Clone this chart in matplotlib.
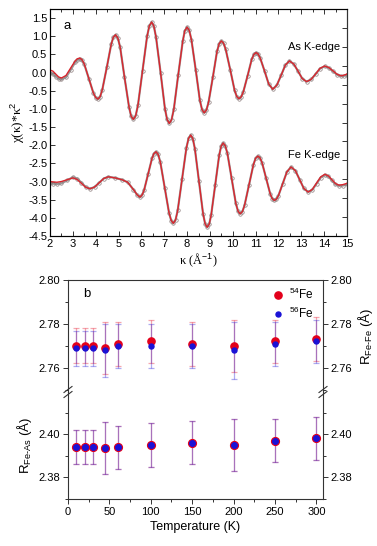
import numpy as np
import matplotlib.pyplot as plt
from matplotlib.lines import Line2D
from matplotlib.ticker import MultipleLocator, FixedLocator

plt.rcParams['font.family'] = ['Liberation Sans', 'DejaVu Sans']
plt.rcParams['mathtext.fontset'] = 'custom'
plt.rcParams['mathtext.rm'] = 'Liberation Sans'

#-----------------------------------------------------------------------------------------------------------------------
# panel a : k^2 weighted EXAFS (data + fit)
as_k = [2.0, 2.125, 2.25, 2.375, 2.5, 2.7, 2.9, 3.1, 3.2, 3.3,
        3.4, 3.5, 3.7, 3.9, 4.0, 4.1, 4.195, 4.29, 4.49, 4.68,
        4.77, 4.87, 4.97, 5.07, 5.26, 5.46, 5.55, 5.65, 5.75, 5.85,
        6.05, 6.25, 6.35, 6.45, 6.545, 6.64, 6.84, 7.03, 7.125, 7.22,
        7.32, 7.42, 7.61, 7.81, 7.9, 8.0, 8.095, 8.19, 8.38, 8.56,
        8.655, 8.75, 8.845, 8.94, 9.13, 9.31, 9.405, 9.5, 9.595, 9.69,
        9.89, 10.08, 10.175, 10.27, 10.365, 10.46, 10.65, 10.83, 10.925, 11.02,
        11.11, 11.2, 11.39, 11.57, 11.75, 11.93, 12.12, 12.3, 12.48, 12.67,
        12.86, 13.04, 13.23, 13.43, 13.63, 13.82, 14.02, 14.2, 14.39, 14.57,
        14.75, 14.88, 15.0]
as_fit = [0.07, 0.04, -0.04, -0.12, -0.15, -0.08, 0.12, 0.32, 0.38, 0.40,
          0.357, 0.235, -0.165, -0.565, -0.687, -0.73, -0.663, -0.47, 0.155, 0.78,
          0.97, 1.04, 0.95, 0.70, -0.125, -0.95, -1.20, -1.29, -1.19, -0.90,
          0.05, 1.00, 1.29, 1.39, 1.28, 0.98, 0.0, -0.99, -1.29, -1.40,
          -1.30, -1.01, -0.075, 0.86, 1.15, 1.25, 1.16, 0.905, 0.07, -0.765,
          -1.02, -1.11, -1.035, -0.82, -0.12, 0.58, 0.795, 0.87, 0.81, 0.64,
          0.075, -0.49, -0.66, -0.72, -0.672, -0.535, -0.085, 0.365, 0.50, 0.55,
          0.51, 0.40, 0.045, -0.31, -0.46, -0.345, -0.07, 0.205, 0.32, 0.235,
          0.035, -0.165, -0.25, -0.187, -0.035, 0.117, 0.18, 0.14, 0.045, -0.05,
          -0.09, -0.07, -0.04]
as_data = [0.0, -0.04, -0.11, -0.17, -0.19, -0.13, 0.07, 0.28, 0.35, 0.38,
           0.34, 0.23, -0.165, -0.565, -0.687, -0.73, -0.663, -0.47, 0.155, 0.78,
           0.97, 1.04, 0.95, 0.70, -0.125, -0.95, -1.20, -1.29, -1.19, -0.90,
           0.05, 1.00, 1.29, 1.39, 1.28, 0.98, 0.0, -0.99, -1.29, -1.40,
           -1.30, -1.01, -0.075, 0.86, 1.15, 1.25, 1.16, 0.905, 0.07, -0.765,
           -1.02, -1.11, -1.035, -0.82, -0.12, 0.58, 0.795, 0.87, 0.81, 0.64,
           0.075, -0.49, -0.66, -0.72, -0.672, -0.535, -0.085, 0.365, 0.50, 0.55,
           0.51, 0.40, 0.045, -0.31, -0.46, -0.345, -0.07, 0.205, 0.32, 0.235,
           0.035, -0.165, -0.25, -0.19, -0.04, 0.11, 0.17, 0.13, 0.035, -0.06,
           -0.10, -0.09, -0.06]

fe_k = [2.0, 2.15, 2.3, 2.5, 2.75, 3.0, 3.19, 3.375, 3.56, 3.75,
        3.95, 4.15, 4.35, 4.55, 4.85, 5.15, 5.4, 5.65, 5.82, 5.94,
        6.03, 6.115, 6.29, 6.465, 6.55, 6.64, 6.735, 6.83, 7.02, 7.21,
        7.305, 7.40, 7.495, 7.59, 7.78, 7.97, 8.065, 8.16, 8.25, 8.34,
        8.52, 8.70, 8.79, 8.88, 8.97, 9.055, 9.23, 9.405, 9.49, 9.58,
        9.67, 9.765, 9.95, 10.135, 10.23, 10.32, 10.42, 10.515, 10.71, 10.905,
        11.0, 11.1, 11.19, 11.28, 11.46, 11.64, 11.73, 11.82, 11.91, 12.0,
        12.185, 12.37, 12.55, 12.74, 12.925, 13.11, 13.3, 13.48, 13.665, 13.85,
        14.03, 14.185, 14.34, 14.495, 14.65, 14.82, 15.0]
fe_fit = [-3.00, -3.01, -3.02, -3.00, -2.95, -2.90, -2.944, -3.05, -3.156, -3.20,
          -3.152, -3.035, -2.918, -2.87, -2.90, -2.95, -3.02, -3.22, -3.37, -3.43,
          -3.37, -3.247, -2.805, -2.363, -2.23, -2.18, -2.255, -2.468, -3.165, -3.862,
          -4.075, -4.15, -4.058, -3.795, -2.935, -2.075, -1.812, -1.72, -1.817, -2.091,
          -2.99, -3.889, -4.163, -4.26, -4.172, -3.921, -3.10, -2.279, -2.028, -1.94,
          -2.014, -2.225, -2.915, -3.605, -3.816, -3.89, -3.83, -3.658, -3.095, -2.532,
          -2.36, -2.30, -2.346, -2.478, -2.91, -3.342, -3.474, -3.52, -3.485, -3.386,
          -3.06, -2.734, -2.60, -2.70, -2.945, -3.19, -3.29, -3.218, -3.045, -2.872,
          -2.80, -2.844, -2.95, -3.056, -3.10, -3.085, -3.05]
fe_data = [-3.05, -3.06, -3.07, -3.05, -2.97, -2.88, -2.92, -3.03, -3.15, -3.20,
           -3.152, -3.035, -2.918, -2.87, -2.90, -2.95, -3.02, -3.22, -3.37, -3.43,
           -3.37, -3.247, -2.805, -2.363, -2.23, -2.18, -2.255, -2.468, -3.165, -3.862,
           -4.075, -4.15, -4.058, -3.795, -2.935, -2.075, -1.812, -1.72, -1.817, -2.091,
           -2.99, -3.889, -4.163, -4.26, -4.172, -3.921, -3.10, -2.279, -2.028, -1.94,
           -2.014, -2.225, -2.915, -3.605, -3.816, -3.89, -3.83, -3.658, -3.095, -2.532,
           -2.36, -2.30, -2.346, -2.478, -2.91, -3.342, -3.474, -3.52, -3.485, -3.386,
           -3.06, -2.734, -2.60, -2.70, -2.945, -3.19, -3.29, -3.23, -3.06, -2.89,
           -2.82, -2.86, -2.97, -3.08, -3.12, -3.11, -3.08]

#-----------------------------------------------------------------------------------------------------------------------
# panel b : bond lengths vs temperature
temps = [10, 20, 30, 45, 60, 100, 150, 200, 250, 300]
fefe_54 = [2.770, 2.770, 2.770, 2.769, 2.771, 2.772, 2.771, 2.770, 2.772, 2.773]
fefe_56 = [2.769, 2.769, 2.769, 2.768, 2.770, 2.770, 2.770, 2.768, 2.771, 2.772]
fefe_54_err = [0.008, 0.008, 0.008, 0.012, 0.010, 0.010, 0.010, 0.012, 0.010, 0.010]
fefe_56_err = [0.008, 0.008, 0.008, 0.012, 0.010, 0.010, 0.010, 0.013, 0.010, 0.010]
feas_54 = [2.394, 2.394, 2.394, 2.3935, 2.394, 2.395, 2.396, 2.395, 2.397, 2.398]
feas_56 = [2.394, 2.394, 2.394, 2.3935, 2.394, 2.395, 2.396, 2.395, 2.397, 2.398]
feas_54_err = [0.008, 0.008, 0.008, 0.012, 0.010, 0.010, 0.010, 0.012, 0.010, 0.010]
feas_56_err = [0.008, 0.008, 0.008, 0.012, 0.010, 0.010, 0.010, 0.012, 0.010, 0.010]

RED = '#e3001b'
BLUE = '#1a12d6'
SPINE = '#333333'
#-----------------------------------------------------------------------------------------------------------------------

fig = plt.figure(figsize=(3.77, 5.46), dpi=100)
W, H = 377.0, 546.0

def px_axes(x0, y0, x1, y1):
    # pixel box (top-left origin) -> figure fraction axes
    return fig.add_axes([x0 / W, 1 - y1 / H, (x1 - x0) / W, (y1 - y0) / H])

# ---------------- panel a
ax = px_axes(50, 9, 347, 236)
for xs, ys in ((as_k, as_data), (fe_k, fe_data)):
    ax.plot(xs, ys, color='#9a9a9a', lw=1.6, zorder=2)
    ax.plot(xs, ys, ls='none', marker='o', ms=2.5, mfc='none', mec='#8c7c7c', mew=0.5, zorder=3)
for xs, ys in ((as_k, as_fit), (fe_k, fe_fit)):
    ax.plot(xs, ys, color='#d9262e', lw=1.0, zorder=4)

ax.set_xlim(2, 15)
ax.set_ylim(-4.5, 1.75)
ax.xaxis.set_major_locator(MultipleLocator(1))
ax.xaxis.set_minor_locator(MultipleLocator(0.5))
ax.tick_params(which='both', direction='in', top=True, right=False, labelsize=8, colors='black', pad=2)
ax.tick_params(which='major', length=3.5, width=0.7, color=SPINE)
ax.tick_params(which='minor', length=2, width=0.7, color=SPINE)
yt = np.arange(-4.5, 1.51, 0.5)
ax.set_yticks(yt)
ax.set_yticklabels(['%.1f' % v for v in yt])
for s in ax.spines.values():
    s.set_color(SPINE)
    s.set_linewidth(0.8)

axr = ax.twinx()
axr.set_ylim(0, 12)
axr.yaxis.set_major_locator(FixedLocator(range(1, 12)))
axr.tick_params(direction='in', length=3.5, width=0.7, color=SPINE, labelright=False)
axr.spines['right'].set_color(SPINE)

ax.set_xlabel('κ (Å$^{-1}$)', family='Liberation Serif', fontsize=9, labelpad=2)
ax.set_ylabel('χ(κ)*κ$^2$', family='Liberation Serif', fontsize=9.5, labelpad=1)
ax.text(0.047, 0.925, 'a', transform=ax.transAxes, fontsize=9.5, va='center', ha='left')
ax.text(14.7, 0.71, 'As K-edge', fontsize=8, ha='right', va='center')
ax.text(14.7, -2.28, 'Fe K-edge', fontsize=8, ha='right', va='center')

# ---------------- panel b (broken y axis)
ax_up = px_axes(68, 280, 323, 392)
ax_lo = px_axes(68, 392, 323, 499)

def err_series(a, ys, errs, color, ms, z):
    a.errorbar(temps, ys, yerr=errs, fmt='none', ecolor=color, alpha=0.35, elinewidth=0.9,
               capsize=2.5, capthick=0.9, zorder=z)
    a.plot(temps, ys, ls='none', marker='o', ms=ms, color=color, mec=color, zorder=z + 2)

err_series(ax_up, fefe_54, fefe_54_err, RED, 5.2, 3)
err_series(ax_up, fefe_56, fefe_56_err, BLUE, 3.6, 4)
err_series(ax_lo, feas_54, feas_54_err, RED, 5.6, 3)
err_series(ax_lo, feas_56, feas_56_err, BLUE, 4.0, 4)

for a in (ax_up, ax_lo):
    a.set_xlim(0, 308)
    a.xaxis.set_major_locator(MultipleLocator(50))
    a.xaxis.set_minor_locator(MultipleLocator(25))
    a.yaxis.set_major_locator(MultipleLocator(0.02))
    a.yaxis.set_minor_locator(MultipleLocator(0.01))
    a.tick_params(which='both', direction='out', left=True, right=True, labelleft=True, labelright=True,
                  labelsize=8, color=SPINE, width=0.7, pad=2)
    a.tick_params(which='major', length=3.5)
    a.tick_params(which='minor', length=2)
    for s in a.spines.values():
        s.set_color(SPINE)
        s.set_linewidth(0.8)

ax_up.set_ylim(2.749, 2.80)
ax_lo.set_ylim(2.37, 2.4195)
ax_up.spines['bottom'].set_visible(False)
ax_lo.spines['top'].set_visible(False)
ax_up.tick_params(axis='x', which='both', bottom=False, top=False, labelbottom=False)
ax_lo.tick_params(axis='x', which='both', top=False)
ax_up.yaxis.set_major_formatter(plt.FormatStrFormatter('%.2f'))
ax_lo.yaxis.set_major_formatter(plt.FormatStrFormatter('%.2f'))

# break marks on both spines
for xp in (68, 323):
    for dy in (-2.5, 2.5):
        fig.add_artist(Line2D([(xp - 4) / W, (xp + 4) / W], [1 - (392 + dy + 3) / H, 1 - (392 + dy - 3) / H],
                              color=SPINE, lw=0.8))

ax_lo.set_xlabel('Temperature (K)', fontsize=9, labelpad=3)
ax_lo.set_ylabel('R$_{\\rm Fe\\text{-}As}$ (Å)', fontsize=9.5, labelpad=3)
ax_up.yaxis.set_label_position('right')
ax_up.set_ylabel('R$_{\\rm Fe\\text{-}Fe}$ (Å)', fontsize=9.5, labelpad=3)
ax_up.text(0.058, 0.875, 'b', transform=ax_up.transAxes, fontsize=9.5, va='center', ha='left')

handles = [Line2D([], [], ls='none', marker='o', ms=5.2, color=RED),
           Line2D([], [], ls='none', marker='o', ms=3.6, color=BLUE)]
ax_up.legend(handles, ['$^{54}$Fe', '$^{56}$Fe'], loc='upper right', frameon=False, fontsize=8.5,
             handletextpad=0.3, handlelength=1.2, labelspacing=0.3, borderaxespad=0.2,
             bbox_to_anchor=(0.99, 1.0))

fig.savefig('out.png', dpi=100)
